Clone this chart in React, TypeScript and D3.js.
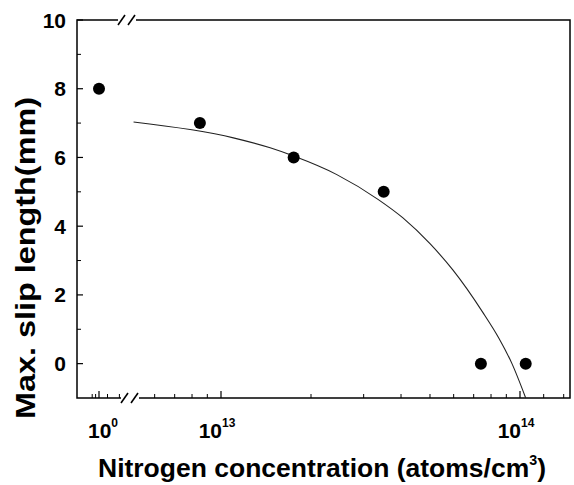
import React from "react";
import * as d3 from "d3";

// Measured points
const pointX = [1, 8.5e12, 1.75e13, 3.5e13, 7.4e13, 1.045e14];
const pointY = [8, 7, 6, 5, 0, 0];

// Fitted curve
const fitX = [5.1e12, 1.1e13, 1.46e13, 1.75e13, 2.44e13, 3.35e13, 4.06e13, 5.0e13, 5.97e13, 7.5e13, 8.5e13, 9.4e13, 1.045e14];
const fitY = [7.03, 6.57, 6.28, 6.04, 5.5, 4.78, 4.24, 3.49, 2.72, 1.5, 0.74, 0.0, -1.0];

const yTicks = [0, 2, 4, 6, 8, 10];
const yMinor = [1, 3, 5, 7, 9];
const xMajor = [1e13, 1e14];
const xMinor = [6e12, 7e12, 8e12, 9e12, 2e13, 3e13, 4e13, 5e13, 6e13, 7e13, 8e13, 9e13, 1.2e14, 1.4e14];
const xLabelSup = ["13", "14"];
const leftMinor = [0.6, 0.8, 1.5, 2.2];

const W = 574, H = 485;
const L = 77, R = 570, T = 20, B = 398;
const FONT = "'Liberation Sans', Arial, sans-serif";

export default function App() {
  const y = d3.scaleLinear().domain([-1, 10]).range([B, T]);
  const x = d3.scaleLog().domain([1e13, 1e14]).range([221, 520]);
  // left segment (before axis break), holds 10^0
  const xl = d3.scaleLinear().domain([0, 2]).range([82, 116]);
  const px = (v: number) => (v < 1e6 ? xl(v) : x(v));

  const line = d3.line<number>()
    .x((_, i) => x(fitX[i]))
    .y((_, i) => y(fitY[i]))
    .curve(d3.curveMonotoneX);

  const brk = (cx: number, cy: number) => (
    <g>
      <rect x={cx - 9} y={cy - 4} width={18} height={8} fill="#fff" />
      <line x1={cx - 9} y1={cy + 5} x2={cx - 2} y2={cy - 5} stroke="#000" strokeWidth={1.6} />
      <line x1={cx + 1} y1={cy + 5} x2={cx + 8} y2={cy - 5} stroke="#000" strokeWidth={1.6} />
    </g>
  );

  return (
    <svg width={W} height={H} style={{ position: "absolute", left: 0, top: 0, background: "#fff" }}
      fontFamily={FONT}>
      <rect x={0} y={0} width={W} height={H} fill="#fff" />
      {/* frame */}
      <rect x={L} y={T} width={R - L} height={B - T} fill="none" stroke="#000" strokeWidth={1.5} />
      {/* y ticks */}
      {yTicks.map((t) => (
        <g key={"y" + t}>
          <line x1={L} x2={L + 6} y1={y(t)} y2={y(t)} stroke="#000" strokeWidth={1.2} />
          <text x={66} y={y(t)} dy="0.36em" textAnchor="end" fontSize={21} fontWeight="bold">{t}</text>
        </g>
      ))}
      {yMinor.map((t) => (
        <line key={"ym" + t} x1={L} x2={L + 4} y1={y(t)} y2={y(t)} stroke="#000" strokeWidth={1} />
      ))}
      {/* x ticks */}
      {xMajor.map((t, i) => (
        <g key={"x" + t}>
          <line x1={x(t)} x2={x(t)} y1={B} y2={B - 7} stroke="#000" strokeWidth={1.2} />
          <text x={x(t) - 4} y={438} textAnchor="middle" fontSize={21} fontWeight="bold">
            10<tspan fontSize={12} dy={-11}>{xLabelSup[i]}</tspan>
          </text>
        </g>
      ))}
      {xMinor.filter((t) => x(t) < R - 2).map((t) => (
        <line key={"xm" + t} x1={x(t)} x2={x(t)} y1={B} y2={B - 4} stroke="#000" strokeWidth={1} />
      ))}
      <line x1={px(1)} x2={px(1)} y1={B} y2={B - 7} stroke="#000" strokeWidth={1.2} />
      {leftMinor.map((t) => (
        <line key={"lm" + t} x1={px(t)} x2={px(t)} y1={B} y2={B - 4} stroke="#000" strokeWidth={1} />
      ))}
      <text x={px(1) + 4} y={438} textAnchor="middle" fontSize={21} fontWeight="bold">
        10<tspan fontSize={12} dy={-11}>0</tspan>
      </text>
      {/* breaks */}
      {brk(127, T)}
      {brk(130, B)}
      {/* fit line */}
      <path d={line(fitX) || ""} fill="none" stroke="#222" strokeWidth={1.1} />
      {/* points */}
      {pointX.map((v, i) => (
        <circle key={"p" + i} cx={px(v)} cy={y(pointY[i])} r={6} fill="#000" />
      ))}
      {/* axis titles */}
      <text transform={`translate(35,258) rotate(-90)`} textAnchor="middle"
        fontSize={27} fontWeight="bold" textLength={322} lengthAdjust="spacingAndGlyphs">Max. slip length(mm)</text>
      <text x={322} y={477} textAnchor="middle" fontSize={26} fontWeight="bold"
        textLength={448} lengthAdjust="spacingAndGlyphs">
        Nitrogen concentration (atoms/cm<tspan fontSize={14} dy={-12}>3</tspan><tspan dy={12}>)</tspan>
      </text>
    </svg>
  );
}
